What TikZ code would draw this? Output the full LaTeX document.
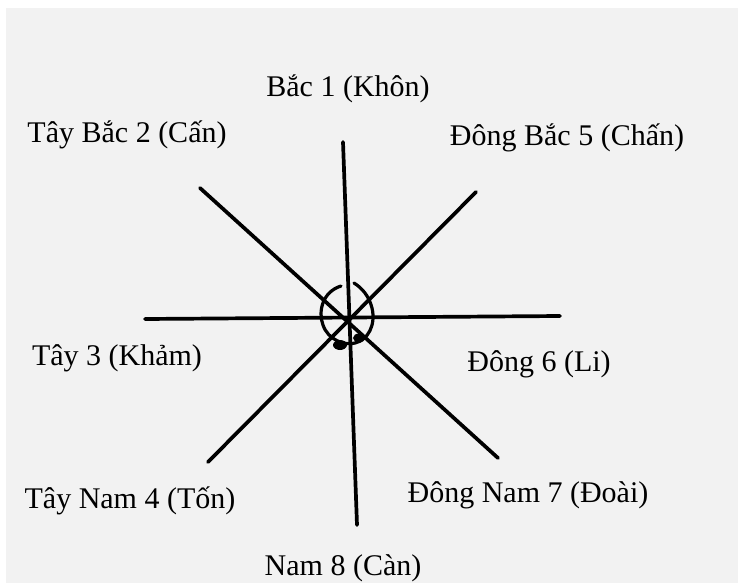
\documentclass[tikz,border=0pt]{standalone}
\usepackage{fontspec}
\setmainfont{Liberation Serif}
\begin{document}
\begin{tikzpicture}[x=1pt,y=-1pt,
  stroke/.style={line width=3.7pt,line cap=round,black},
  dirlabel/.style={font=\fontsize{30}{32}\selectfont,inner sep=0pt,anchor=center}]
% canvas
\fill[white] (0,0) rectangle (738,583);
\fill[black!5] (6,8) rectangle (738,583);
\useasboundingbox (0,0) rectangle (738,583);
% end points of the four axes
\coordinate (n)  at (343,142);
\coordinate (s)  at (357,525);
\coordinate (w)  at (145,319);
\coordinate (e)  at (560,316);
\coordinate (nw) at (200,188);
\coordinate (se) at (498,458);
\coordinate (ne) at (476,192);
\coordinate (sw) at (208,462);
\draw[stroke] (n) -- (s);
\draw[stroke] (w) -- (e);
\draw[stroke] (nw) -- (se);
\draw[stroke] (ne) -- (sw);
% open loop around the centre
\draw[line width=3.2pt,line cap=round]
  (341,286) .. controls (322,292) and (318,312) .. (323,325)
  .. controls (328,340) and (345,346) .. (355,343)
  .. controls (368,340) and (376,325) .. (372,308)
  .. controls (369,296) and (362,288) .. (354,283);
\fill (340,345) ellipse (7pt and 5pt);
\fill (359,338) ellipse (6pt and 4.5pt);
% direction labels
\node[dirlabel] (lbn)  at (348,89)  {Bắc 1 (Khôn)};
\node[dirlabel] (lbnw) at (127,135) {Tây Bắc 2 (Cấn)};
\node[dirlabel] (lbne) at (567,138) {Đông Bắc 5 (Chấn)};
\node[dirlabel] (lbw)  at (117,358) {Tây 3 (Khảm)};
\node[dirlabel] (lbe)  at (539,364) {Đông 6 (Li)};
\node[dirlabel] (lbsw) at (130,501) {Tây Nam 4 (Tốn)};
\node[dirlabel] (lbse) at (528,495) {Đông Nam 7 (Đoài)};
\node[dirlabel] (lbs)  at (343,568) {Nam 8 (Càn)};
\end{tikzpicture}
\end{document}
